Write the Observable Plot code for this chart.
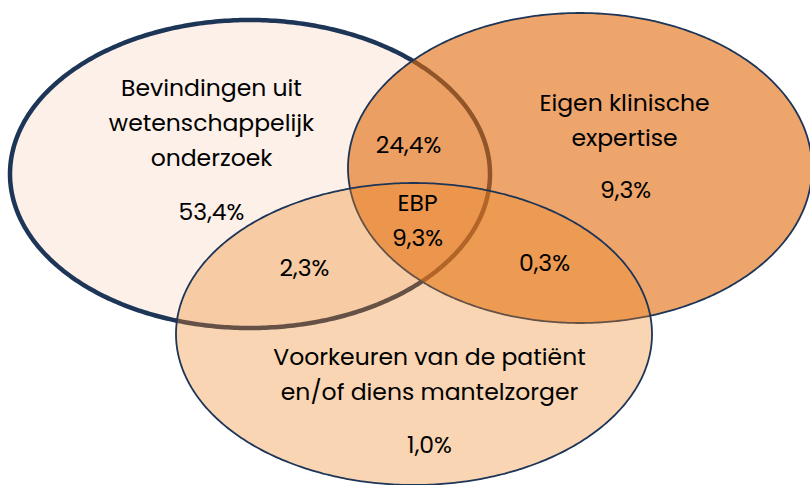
<!DOCTYPE html>
<html>
<head>
<meta charset="utf-8">
<script src="https://cdn.jsdelivr.net/npm/d3@7"></script>
<script src="https://cdn.jsdelivr.net/npm/@observablehq/plot@0.6"></script>
<style>
  html, body { margin: 0; padding: 0; background: #ffffff; }
  #chart svg { display: block; }
</style>
</head>
<body>
<div id="chart"></div>
<script>
// ---- Data ----
const setCodes = ["A", "B", "C"];
const setLabels = [
  "Bevindingen uit\nwetenschappelijk\nonderzoek",
  "Eigen klinische\nexpertise",
  "Voorkeuren van de patiënt\nen/of diens mantelzorger"
];
const regionCodes = ["A", "B", "C", "AB", "AC", "BC", "ABC"];
const regionValues = [53.4, 9.3, 1.0, 24.4, 2.3, 0.3, 9.3];
const centerLabel = "EBP";

// ---- Layout (pixel units, used through identity-like scales) ----
const W = 810, H = 485;
const ellipses = {
  A: {cx: 250, cy: 174, rx: 240, ry: 154, fill: "#fcf0e8", fillOpacity: 1, stroke: "#1d3557", strokeWidth: 4.5},
  B: {cx: 580, cy: 168, rx: 232, ry: 155, fill: "#e1690a", fillOpacity: 0.6, stroke: "#1d3557", strokeWidth: 1.8},
  C: {cx: 414, cy: 334, rx: 238, ry: 151, fill: "#ee8726", fillOpacity: 0.35, stroke: "#1d3557", strokeWidth: 1.8}
};
const setLabelPos = {A: [211, 123], B: [624, 120.5], C: [429, 375]};
const regionPos = {A: [211, 212], B: [625, 190], C: [429, 445], AB: [408, 145], AC: [304, 268], BC: [544, 263], ABC: [417, 220.5]};

const fmt = v => d3.format(".1f")(v).replace(".", ",") + "%";

function ellipseHalfPoints(e) {
  const n = 240;
  return d3.range(n + 1).map(i => {
    const t = Math.PI * i / n;
    return {x: e.cx + e.rx * Math.cos(t), y1: e.cy - e.ry * Math.sin(t), y2: e.cy + e.ry * Math.sin(t)};
  });
}

const marks = [];
setCodes.forEach(code => {
  const e = ellipses[code];
  marks.push(Plot.areaY(ellipseHalfPoints(e), {
    x: "x", y1: "y1", y2: "y2",
    fill: e.fill, fillOpacity: e.fillOpacity,
    stroke: e.stroke, strokeWidth: e.strokeWidth, strokeOpacity: 1,
    curve: "linear"
  }));
});

const setTextData = setCodes.map((c, i) => ({x: setLabelPos[c][0], y: setLabelPos[c][1], text: setLabels[i]}));
const regionTextData = regionCodes.map((c, i) => ({
  x: regionPos[c][0], y: regionPos[c][1],
  text: c === "ABC" ? centerLabel + "\n" + fmt(regionValues[i]) : fmt(regionValues[i])
}));

const font = "Poppins, 'Open Sans', sans-serif";
marks.push(Plot.text(setTextData, {x: "x", y: "y", dy: -4, text: "text", fontSize: 23.5, lineHeight: 1.49, fill: "#000", fontFamily: font}));
marks.push(Plot.text(regionTextData, {x: "x", y: "y", dy: -4, text: "text", fontSize: 23.5, lineHeight: 1.49, fill: "#000", fontFamily: font}));

const chart = Plot.plot({
  width: W, height: H,
  margin: 0,
  x: {domain: [0, W], range: [0, W], axis: null},
  y: {domain: [0, H], range: [0, H], axis: null},
  style: {background: "#ffffff"},
  marks
});
document.getElementById("chart").appendChild(chart);
</script>
</body>
</html>
